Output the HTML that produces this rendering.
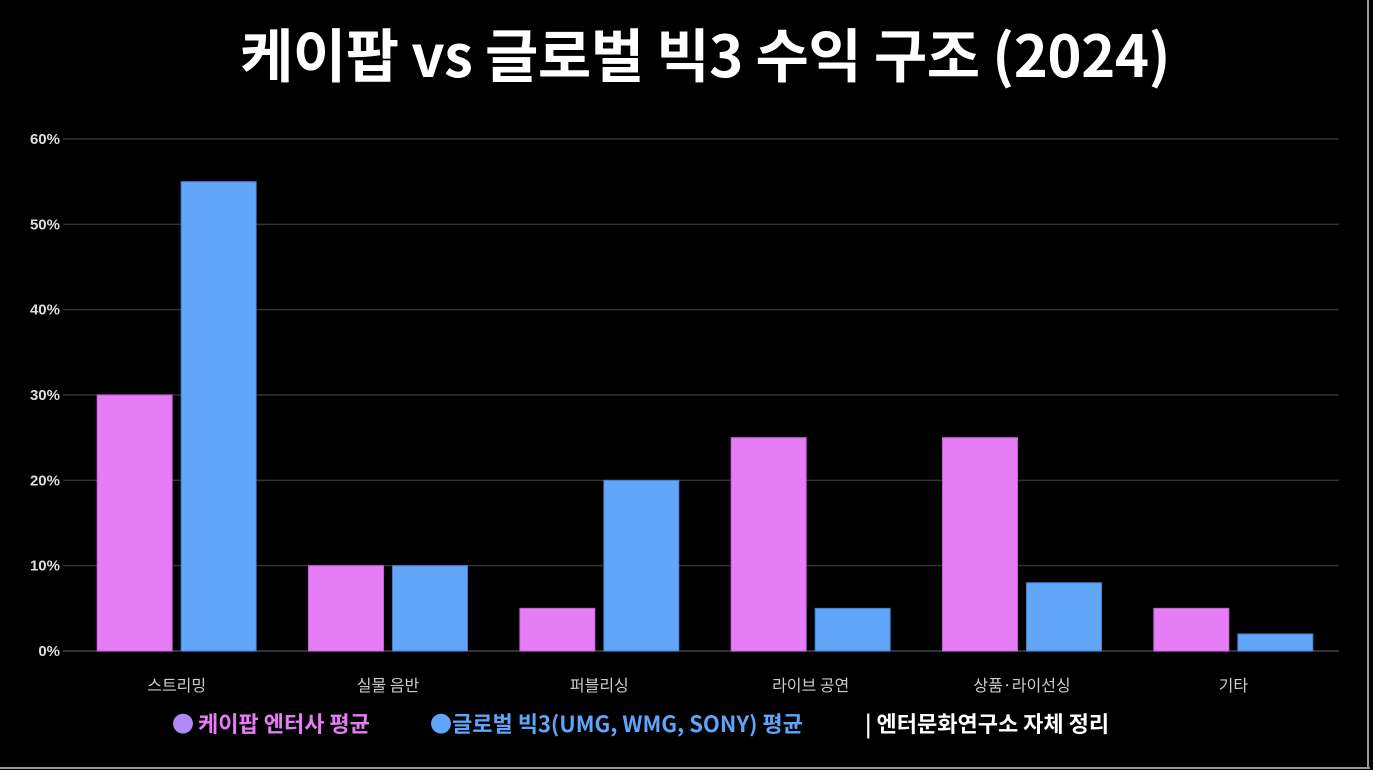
<!DOCTYPE html>
<html><head><meta charset="utf-8"><style>
html,body{margin:0;padding:0;background:#000;}
body{width:1373px;height:770px;position:relative;overflow:hidden;font-family:"Liberation Sans","Noto Sans CJK KR",sans-serif;}
#title{position:absolute;left:0;width:1410px;top:10px;text-align:center;color:#fff;font-weight:bold;font-size:58px;letter-spacing:-0.5px;font-family:"Noto Sans CJK KR",sans-serif;}
#legend{position:absolute;top:707px;left:172px;font-family:"Noto Sans CJK KR",sans-serif;font-weight:bold;font-size:22px;white-space:nowrap;}
#legend span{position:absolute;top:0;}
</style></head><body>
<div id="title">케이팝 vs 글로벌 빅3 수익 구조 (2024)</div>
<svg id="chart" width="1373" height="770" style="position:absolute;left:0;top:0"></svg>
<div id="legend">
<span style="left:0;color:#b08af2">●</span>
<span style="left:26px;color:#e77cf7">케이팝 엔터사 평균</span>
<span style="left:258px;color:#5fa5fa">●글로벌 빅3(UMG, WMG, SONY) 평균</span>
<span style="left:693px;color:#fff">| 엔터문화연구소 자체 정리</span>
</div>
<script>
const categories=["스트리밍","실물 음반","퍼블리싱","라이브 공연","상품·라이선싱","기타"];
const kpopValues=[30,10,5,25,25,5];
const globalValues=[55,10,20,5,8,2];
const yTicks=[0,10,20,30,40,50,60];
const NS="http://www.w3.org/2000/svg";
const svg=document.getElementById('chart');
const x0=71,x1=1339,yTop=139,yBot=651,yMax=60;
const gw=(x1-x0)/categories.length;
function y(v){return yBot-(v/yMax)*(yBot-yTop);}
function gx(i){return x0+gw*i+gw/2;}
function mk(t,a){const e=document.createElementNS(NS,t);for(const k in a)e.setAttribute(k,a[k]);svg.appendChild(e);return e;}
yTicks.forEach(t=>{
 const l=mk('line',{x1:x0-8,x2:x1,y1:y(t),y2:y(t),stroke:t===0?'#444':'#333','stroke-width':1.5});
 
 
 const tx=mk('text',{x:60,y:y(t)+5,'text-anchor':'end',fill:'#ddd','font-size':15,'font-weight':'bold','font-family':'"Liberation Sans",sans-serif'});
 tx.textContent=t+'%';
 
 
});
const bw=75,gap=9;
categories.forEach((c,i)=>{
 const cx=gx(i);
 const b1=mk('rect',{x:cx-gap/2-bw,y:y(kpopValues[i]),width:bw,height:yBot-y(kpopValues[i]),fill:'#e77cf7',stroke:'#c65fd6','stroke-width':1});
 
 
 const b2=mk('rect',{x:cx+gap/2,y:y(globalValues[i]),width:bw,height:yBot-y(globalValues[i]),fill:'#62a6fa',stroke:'#3f7fd0','stroke-width':1});
 
 
 const t=mk('text',{x:cx,y:691,'text-anchor':'middle',fill:'#ccc','font-size':16,'font-family':'"Noto Sans CJK KR",sans-serif'});
 t.textContent=c;
 
 
});
const r=mk('line',{x1:1368,x2:1368,y1:0,y2:768,stroke:'#999','stroke-width':2});


const b=mk('line',{x1:0,x2:1370,y1:768,y2:768,stroke:'#999','stroke-width':2});


</script>
</body></html>
